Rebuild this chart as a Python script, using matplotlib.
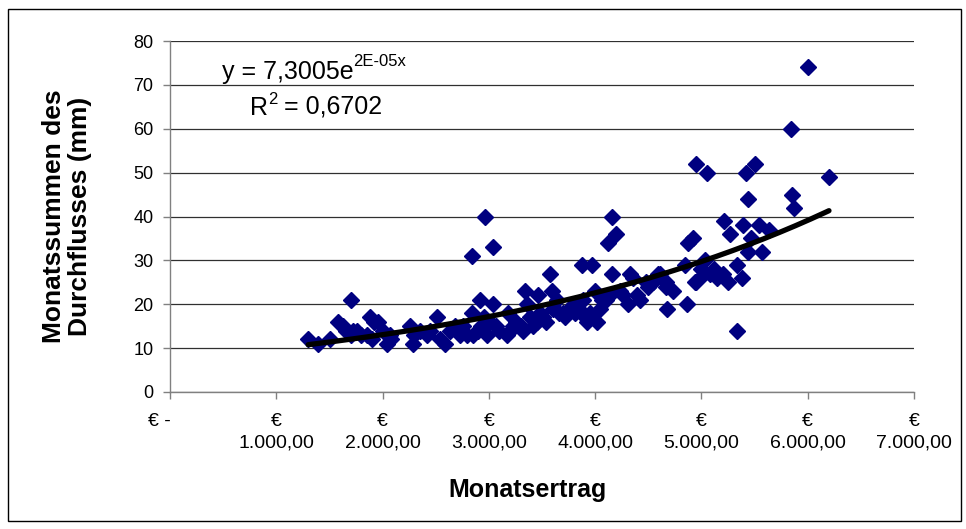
import numpy as np
import matplotlib
matplotlib.use("Agg")
import matplotlib.pyplot as plt
from matplotlib.patches import Rectangle

# Monatsertrag (EUR) vs. Monatssummen des Durchflusses (mm)
ertrag = [
    1300, 1390, 1505, 1580, 1630, 1660, 1700, 1700, 1720, 1760, 1800, 1850,
    1880, 1900, 1920, 1960, 2000, 2040, 2070, 2080,
    2260, 2290, 2300, 2350, 2420, 2450, 2510, 2540, 2590, 2630, 2680, 2700,
    2730, 2760, 2790, 2840, 2840, 2850, 2900, 2920, 2930, 2950, 2960, 2980,
    3010, 3040, 3040, 3070, 3100,
    3170, 3180, 3200, 3230, 3260, 3300, 3320, 3340, 3360, 3390, 3420, 3450,
    3460, 3480, 3510, 3540, 3575, 3590, 3600, 3640, 3660, 3700, 3720, 3750,
    3800, 3810, 3850, 3875, 3890, 3900, 3920, 3950, 3970, 4000, 4020, 4050,
    4060,
    4100, 4120, 4140, 4160, 4160, 4200, 4230, 4260, 4310, 4330, 4360, 4390,
    4420, 4480, 4500, 4540, 4590, 4610, 4670, 4670, 4680, 4730, 4850, 4860,
    4870, 4920, 4940, 4950, 4950,
    5000, 5020, 5030, 5050, 5080, 5120, 5150, 5200, 5210, 5250, 5270, 5330,
    5330, 5380, 5390, 5420, 5440, 5440, 5470, 5500, 5540, 5570, 5640, 5840,
    5850, 5870, 6000, 6200,
]
durchfluss = [
    12, 11, 12, 16, 15, 14, 21, 13, 14, 14, 13, 13,
    17, 12, 16, 16, 14, 11, 13, 12,
    15, 11, 13, 14, 13, 14, 17, 12, 11, 14, 15, 14,
    13, 15, 13, 18, 31, 13, 14, 21, 15, 17, 40, 13,
    16, 20, 33, 15, 14,
    13, 18, 14, 15, 16, 15, 14, 23, 20, 17, 15, 16,
    22, 18, 17, 16, 27, 23, 19, 21, 18, 18, 17, 19,
    20, 18, 19, 29, 21, 17, 16, 18, 29, 23, 16, 19,
    21,
    21, 34, 22, 27, 40, 36, 23, 22, 20, 27, 26, 22,
    21, 25, 24, 25, 27, 27, 25, 24, 19, 23, 29, 20,
    34, 35, 25, 52, 25,
    28, 27, 30, 50, 27, 28, 26, 27, 39, 25, 36, 29,
    14, 26, 38, 50, 44, 32, 35, 52, 38, 32, 37, 60,
    45, 42, 74, 49,
]

y_ticks = [0, 10, 20, 30, 40, 50, 60, 70, 80]
x_ticks = [0, 1000, 2000, 3000, 4000, 5000, 6000, 7000]
x_ticklabels = ["€ -    ", "€\n1.000,00", "€\n2.000,00", "€\n3.000,00",
                "€\n4.000,00", "€\n5.000,00", "€\n6.000,00", "€\n7.000,00"]

W, H = 966, 529
plt.rcParams["font.family"] = ["Liberation Sans", "DejaVu Sans"]


def fx(px):
    return px / W


def fy(py):
    return 1 - py / H


fig = plt.figure(figsize=(W / 100, H / 100), dpi=100)
ax = fig.add_axes([fx(170), fy(392), fx(914) - fx(170), fy(41) - fy(392)])

x = np.array(ertrag, dtype=float)
y = np.array(durchfluss, dtype=float)

ax.plot(x, y, "D", color="#000080", ms=8, mec="#000080", zorder=3,
        clip_on=False)

# exponential trendline, fitted the same way Excel does (log-linear)
b, ln_a = np.polyfit(x, np.log(y), 1)
xs = np.linspace(x.min(), x.max(), 200)
ax.plot(xs, np.exp(ln_a) * np.exp(b * xs), color="black", lw=3.8,
        solid_capstyle="round", zorder=4)

ax.set_xlim(0, 7000)
ax.set_ylim(0, 80)
ax.set_yticks(y_ticks)
ax.set_xticks(x_ticks)
ax.set_xticklabels(x_ticklabels, linespacing=1.35)
ax.grid(axis="y", color="#303030", lw=0.9)
ax.set_axisbelow(True)
for s in ("top", "right"):
    ax.spines[s].set_visible(False)
for s in ("left", "bottom"):
    ax.spines[s].set_color("#808080")
    ax.spines[s].set_linewidth(1.0)
ax.tick_params(axis="both", direction="out", length=5, width=1.0,
               color="#808080", labelsize=13)
ax.tick_params(axis="x", pad=10, labelsize=14)
ax.tick_params(axis="y", pad=7)

fig.text(fx(67), fy(216), "Monatssummen des\nDurchflusses (mm)",
         rotation=90, ha="center", va="center", fontsize=19,
         fontweight="bold", linespacing=1.1)
fig.text(fx(528), fy(490), "Monatsertrag", ha="center", va="center",
         fontsize=18, fontweight="bold")

# trendline equation, as Excel prints it; superscripts hang off the text
eq = fig.text(fx(222), fy(72), "y = 7,3005e", ha="left", va="center",
              fontsize=18)
r = fig.text(fx(250), fy(108), "R", ha="left", va="center", fontsize=18)
fig.canvas.draw()
ax.annotate("2E-05x", xy=(1.0, 0.62), xycoords=eq, ha="left",
            va="bottom", fontsize=12)
r2 = ax.annotate("2", xy=(1.0, 0.55), xycoords=r, ha="left", va="bottom",
                 fontsize=12)
fig.canvas.draw()
ax.annotate(" = 0,6702", xy=(1.0, 0.0), xycoords=r2, ha="left",
            va="center", fontsize=18)

fig.patches.append(Rectangle((fx(8), fy(521)), fx(953), fy(9) - fy(521),
                             transform=fig.transFigure, fill=False,
                             ec="black", lw=1.0))

fig.savefig("out.png", dpi=100, facecolor="white")
